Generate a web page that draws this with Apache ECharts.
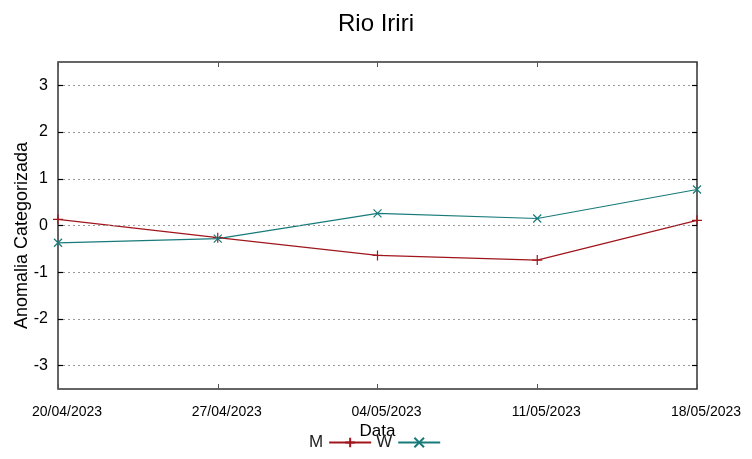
<!DOCTYPE html>
<html><head><meta charset="utf-8">
<script src="https://cdn.jsdelivr.net/npm/echarts@6/dist/echarts.min.js"></script>
<style>html,body{margin:0;padding:0;background:#fff}#c{width:752px;height:459px}</style>
</head><body><div id="c"></div>
<script>
var categories = ['20/04/2023','27/04/2023','04/05/2023','11/05/2023','18/05/2023'];
var seriesM = [0.13, -0.26, -0.64, -0.74, 0.11];
var seriesW = [-0.37, -0.28, 0.26, 0.15, 0.77];
var yTicks = [-3,-2,-1,0,1,2,3];

var colM = '#a0161c', colW = '#187a7a';
var plusPath = 'path://M0,-1L0,1M-1,0L1,0';
var xPath = 'path://M-1,-1L1,1M-1,1L1,-1';
var font = 'Liberation Sans';
var chart = echarts.init(document.getElementById('c'));
chart.setOption({
  animation:false,
  backgroundColor:'#fff',
  title:{text:'Rio Iriri', left:'center', top:7, textStyle:{fontFamily:font, fontSize:24, fontWeight:'normal', color:'#000'}},
  grid:{left:58, right:55, top:62, bottom:70, show:true, borderColor:'#333', borderWidth:1.5,
    outerBoundsMode:'none', containLabel:false},
  legend:{bottom:3, left:304, align:'right', itemWidth:42, itemHeight:12, itemGap:4,
    textStyle:{fontFamily:font, fontSize:17, color:'#222', padding:[0,1,0,0]},
    data:['M','W']},
  xAxis:[{type:'category', data:categories, boundaryGap:false,
    name:'Data', nameLocation:'middle', nameGap:34, nameMoveOverlap:false,
    nameTextStyle:{fontFamily:font, fontSize:17, color:'#000'},
    axisLine:{show:false, onZero:false}, axisTick:{inside:true, length:5, lineStyle:{color:'#555'}},
    axisLabel:{fontFamily:font, fontSize:14, color:'#000', margin:16, padding:[0,0,0,18]},
    splitLine:{show:false}},
   {type:'category', data:categories, boundaryGap:false, position:'top',
    axisLine:{show:false, onZero:false}, axisTick:{inside:true, length:5, lineStyle:{color:'#555'}},
    axisLabel:{show:false}, splitLine:{show:false}}],
  yAxis:[{type:'value', min:-3.5, max:3.5, interval:0.5,
    name:'Anomalia Categorizada', nameLocation:'middle', nameGap:27, nameMoveOverlap:false,
    nameTextStyle:{fontFamily:font, fontSize:18, color:'#000', padding:[0,20,0,0]},
    axisLine:{show:false, onZero:false}, axisTick:{show:false},
    axisLabel:{fontFamily:font, fontSize:16, color:'#000', margin:10,
      formatter:function(v){return yTicks.indexOf(v)>=0 ? String(v) : '';}},
    splitLine:{show:false}},
   {type:'value', min:-3.5, max:3.5, position:'right', show:false}],
  series:[
    {name:'M', type:'line', data:seriesM, symbol:plusPath, symbolSize:10, showAllSymbol:true,
      lineStyle:{color:colM, width:1.2}, itemStyle:{color:'transparent', borderColor:colM, borderWidth:1.2},
      z:3},
    {name:'W', type:'line', data:seriesW, symbol:xPath, symbolSize:8, showAllSymbol:true,
      lineStyle:{color:colW, width:1.2}, itemStyle:{color:'transparent', borderColor:colW, borderWidth:1.2},
      z:3},
    {name:'grid', type:'line', data:[], yAxisIndex:0, silent:true,
      markLine:{silent:true, symbol:'none', label:{show:false},
        lineStyle:{type:[2,3], color:'#999', width:1},
        data:yTicks.map(function(v){return {yAxis:v};})}},
    {name:'ticksL', type:'line', data:[], yAxisIndex:0, silent:true,
      markLine:{silent:true, symbol:'none', label:{show:false},
        lineStyle:{type:'solid', color:'#000', width:1.2},
        data:yTicks.map(function(v){return [{yAxis:v, x:58}, {yAxis:v, x:63}];})}},
    {name:'ticksR', type:'line', data:[], yAxisIndex:0, silent:true,
      markLine:{silent:true, symbol:'none', label:{show:false},
        lineStyle:{type:'solid', color:'#000', width:1.2},
        data:yTicks.map(function(v){return [{yAxis:v, x:692}, {yAxis:v, x:697}];})}}
  ]
});
</script></body></html>
